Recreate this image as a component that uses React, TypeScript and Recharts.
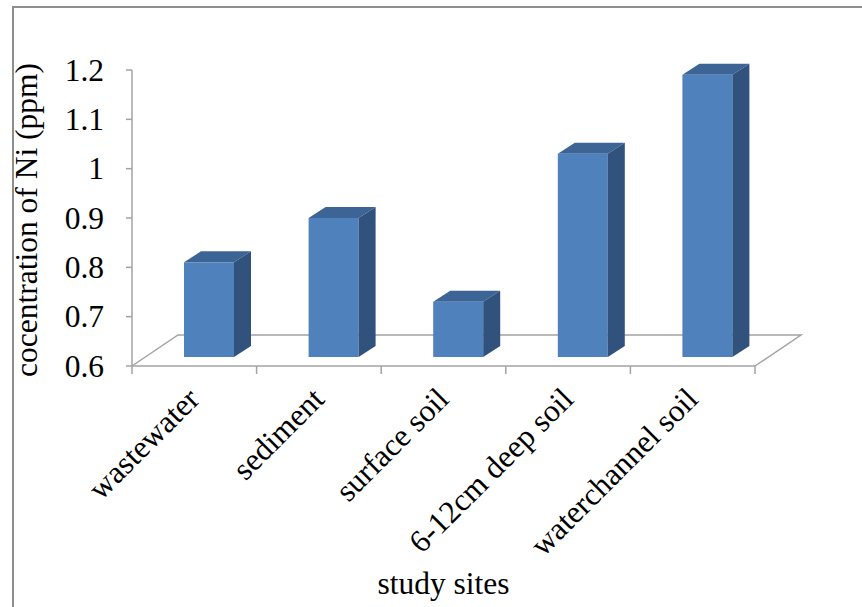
import { Bar, BarChart, Customized, XAxis, YAxis } from "recharts";

const sites = ["wastewater", "sediment", "surface soil", "6-12cm deep soil", "waterchannel soil"];
const nickel = [0.8, 0.89, 0.72, 1.02, 1.18];
const yTicks = [0.6, 0.7, 0.8, 0.9, 1, 1.1, 1.2];

const data = sites.map((site, i) => ({ site, ni: nickel[i] }));

const W = 862;
const H = 607;
const PLOT_TOP = 70;
const PLOT_LEFT = 132;
const PLOT_RIGHT = 755;
const PLOT_BOTTOM = 366;

// depth of the floor and of each column
const FLOOR_DX = 46;
const FLOOR_DY = 31;
const BOX_DX = 17;
const BOX_DY = 11;

const FONT = '"Liberation Serif", "Times New Roman", serif';
const GRID = "#a3a3a3";
const textStyle = { fontFamily: FONT, fontSize: 31.5, fill: "#000" };

function Column3D(props: any) {
  const { x, y, width, height } = props;
  if (width == null || height == null) return null;
  const fx = x + 15;
  const top = y - 5;
  const bottom = y + height - 9;
  const r = fx + width;
  return (
    <g>
      <rect x={fx} y={top} width={width} height={bottom - top} fill="#4f81bd" />
      <polygon
        points={`${fx},${top} ${fx + BOX_DX},${top - BOX_DY} ${r + BOX_DX},${top - BOX_DY} ${r},${top}`}
        fill="#3c6596"
      />
      <polygon
        points={`${r},${top} ${r + BOX_DX},${top - BOX_DY} ${r + BOX_DX},${bottom - BOX_DY} ${r},${bottom}`}
        fill="#30527c"
      />
    </g>
  );
}

function Floor() {
  const band = (PLOT_RIGHT - PLOT_LEFT) / sites.length;
  const backY = PLOT_BOTTOM - FLOOR_DY;
  return (
    <g>
      <polyline
        points={`${PLOT_LEFT},${PLOT_BOTTOM} ${PLOT_LEFT + FLOOR_DX},${backY} ${PLOT_RIGHT + FLOOR_DX},${backY} ${PLOT_RIGHT},${PLOT_BOTTOM}`}
        fill="none"
        stroke={GRID}
        strokeWidth={1.5}
      />
      {sites.concat([""]).map((_, i) => (
        <line
          key={i}
          x1={PLOT_LEFT + band * i}
          x2={PLOT_LEFT + band * i}
          y1={PLOT_BOTTOM}
          y2={PLOT_BOTTOM + 8}
          stroke={GRID}
          strokeWidth={1.5}
        />
      ))}
      <text x={(PLOT_LEFT + PLOT_RIGHT) / 2} y={594} textAnchor="middle" style={textStyle}>
        study sites
      </text>
      <text
        x={37}
        y={220}
        transform="rotate(-90, 37, 220)"
        textAnchor="middle"
        style={textStyle}
      >
        cocentration of Ni (ppm)
      </text>
    </g>
  );
}

function SiteTick(props: any) {
  const { x, y, payload } = props;
  const tx = x + 7;
  const ty = y + 35;
  return (
    <text
      x={tx}
      y={ty}
      transform={`rotate(-45, ${tx}, ${ty})`}
      textAnchor="end"
      style={textStyle}
    >
      {payload.value}
    </text>
  );
}

function ValueTick(props: any) {
  const { x, y, payload } = props;
  return (
    <text x={x} y={y} dy="0.34em" textAnchor="end" style={textStyle}>
      {String(payload.value)}
    </text>
  );
}

export default function App() {
  return (
    <div
      style={{
        position: "fixed",
        left: 0,
        top: 0,
        width: W,
        height: H,
        background: "#fff",
        overflow: "hidden",
        fontFamily: FONT,
      }}
    >
      <div
        style={{
          position: "absolute",
          left: 12,
          top: 6,
          width: 900,
          height: 700,
          border: "2px solid #8e8e8e",
        }}
      />
      <div style={{ position: "absolute", left: 0, top: 0 }}>
        <BarChart
          width={W}
          height={H}
          data={data}
          margin={{ top: PLOT_TOP, right: W - PLOT_RIGHT, bottom: 0, left: 0 }}
          barSize={50}
        >
          <Customized component={Floor} />
          <XAxis
            dataKey="site"
            height={H - PLOT_BOTTOM}
            interval={0}
            tickLine={false}
            tickSize={0}
            tickMargin={0}
            axisLine={{ stroke: GRID, strokeWidth: 1.5 }}
            tick={<SiteTick />}
          />
          <YAxis
            width={PLOT_LEFT}
            domain={[0.6, 1.2]}
            ticks={yTicks}
            interval={0}
            tickSize={6}
            tickMargin={22}
            axisLine={{ stroke: GRID, strokeWidth: 1.5 }}
            tickLine={{ stroke: GRID, strokeWidth: 1.5 }}
            tick={<ValueTick />}
          />
          <Bar dataKey="ni" shape={<Column3D />} isAnimationActive={false} />
        </BarChart>
      </div>
    </div>
  );
}
